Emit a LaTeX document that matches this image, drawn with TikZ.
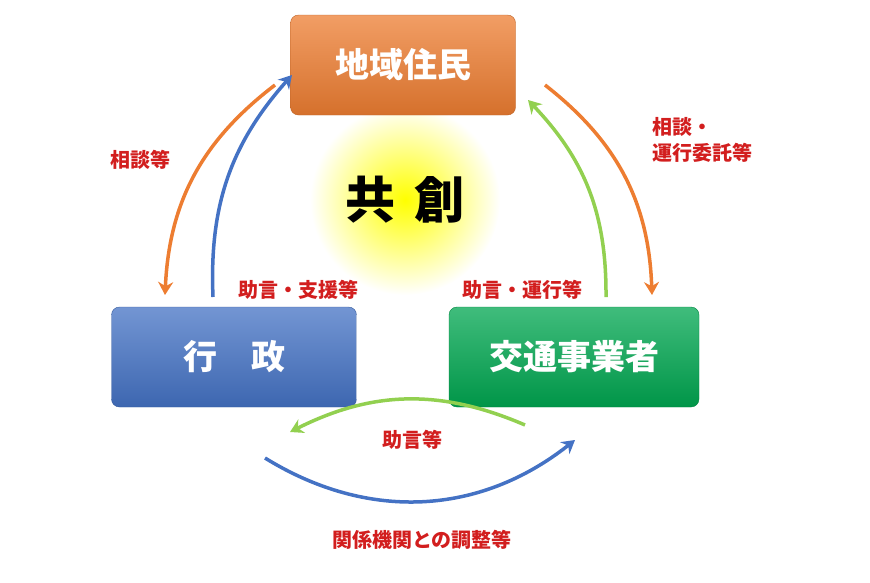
\documentclass[tikz,border=0pt]{standalone}
\usepackage{fontspec}
\setmainfont{Noto Sans CJK JP}
\usetikzlibrary{positioning,arrows.meta}
\definecolor{boxorange}{RGB}{237,125,49}
\definecolor{boxblue}{RGB}{68,114,196}
\definecolor{boxgreen}{RGB}{0,166,80}
\definecolor{arrowgreen}{RGB}{146,208,80}
\definecolor{labelred}{RGB}{210,30,30}
\tikzset{
  party/.style={rounded corners=8pt,minimum width=225pt,minimum height=100pt,
    text=white,font=\fontsize{34}{34}\selectfont\bfseries,draw=#1!80!black,
    top color=#1!75!white,bottom color=#1!90!black},
  flow/.style={line width=3.5pt,-{Stealth[length=13pt,width=15pt]}},
  tag/.style={text=labelred,font=\fontsize{20}{26}\selectfont\bfseries,align=left}
}
\begin{document}
\begin{tikzpicture}[x=1pt,y=-1pt]
  \useasboundingbox (0,0) rectangle (870,582);
  % glow behind the centre word
  \shade[inner color=yellow,outer color=white] (405,200) circle (95);
  \node[font=\fontsize{50}{50}\selectfont\bfseries] (kyoso) at (405,200) {共\hspace{0.4em}創};
  % the three parties
  \node[party=boxorange] (jumin) at (403,65) {地域住民};
  \node[party=boxblue,minimum width=245pt] (gyosei) at (234,357) {行\hspace{1em}政};
  \node[party=boxgreen,minimum width=250pt] (kotsu) at (574,357) {交通事業者};
  % arrows
  \coordinate (a1) at (275,85);   \coordinate (a2) at (165,295);
  \coordinate (b1) at (213,297);  \coordinate (b2) at (292,75);
  \coordinate (c1) at (606,297);  \coordinate (c2) at (528,100);
  \coordinate (d1) at (545,85);   \coordinate (d2) at (652,295);
  \coordinate (e1) at (525,425);  \coordinate (e2) at (290,432);
  \coordinate (f1) at (265,458);  \coordinate (f2) at (575,440);
  \draw[flow,boxorange] (a1) to[bend right=25] (a2);
  \draw[flow,boxblue] (b1) to[bend left=22] (b2);
  \draw[flow,arrowgreen] (c1) to[bend right=22] (c2);
  \draw[flow,boxorange] (d1) to[bend left=25] (d2);
  \draw[flow,arrowgreen] (e1) to[bend right=25] (e2);
  \draw[flow,boxblue] (f1) to[bend right=35] (f2);
  % labels
  \node[tag] (t1) at (140,160) {相談等};
  \node[tag] (t2) at (702,140) {相談・\\運行委託等};
  \node[tag] (t3) at (298,290) {助言・支援等};
  \node[tag] (t4) at (522,290) {助言・運行等};
  \node[tag] (t5) at (412,440) {助言等};
  \node[tag] (t6) at (422,540) {関係機関との調整等};
\end{tikzpicture}
\end{document}
